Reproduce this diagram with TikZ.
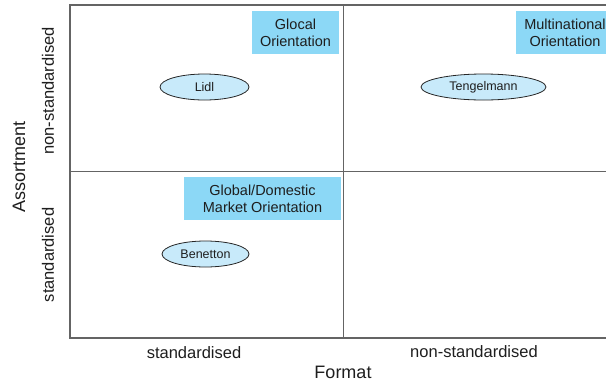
\documentclass[tikz,border=0pt]{standalone}
\usepackage{fontspec}
\setmainfont{Liberation Sans}
\usetikzlibrary{shapes.geometric}
\definecolor{boxblue}{RGB}{140,216,246}
\definecolor{ellblue}{RGB}{200,234,250}
\definecolor{gridgray}{RGB}{100,100,100}
\definecolor{txt}{RGB}{30,30,30}
\tikzset{
  gridline/.style={draw=gridgray, line width=1.3pt},
  orient/.style={fill=boxblue, draw=none, inner sep=0pt, align=center, text=txt,
    font=\fontsize{14.5}{17}\selectfont},
  firm/.style={ellipse, draw=black!85, line width=0.8pt, fill=ellblue, inner sep=0pt,
    minimum height=26pt, text=txt, font=\fontsize{12.5}{14}\selectfont},
  cat/.style={text=txt, inner sep=0pt, font=\fontsize{16.5}{19}\selectfont},
  axtitle/.style={text=txt, inner sep=0pt, font=\fontsize{18}{21}\selectfont}
}
\begin{document}
\begin{tikzpicture}[x=1pt,y=-1pt]
\useasboundingbox (0,0) rectangle (606,384);
\coordinate (tl) at (70,5);
\coordinate (tr) at (606,5);
\coordinate (bl) at (70,338);
\coordinate (br) at (606,338);
\coordinate (ml) at (70,171.5);
\coordinate (mr) at (606,171.5);
\coordinate (mt) at (343.5,5);
\coordinate (mb) at (343.5,338);
\draw[gridline] (tr) -- (tl) -- (bl) -- (br);
\draw[gridline] (ml) -- (mr);
\draw[gridline] (mt) -- (mb);

\node[orient, minimum width=87pt, minimum height=43pt] (glocal) at (295.5,32.5) {Glocal\\Orientation};
\node[orient, minimum width=98pt, minimum height=43pt] (multi) at (565,32.5) {Multinational\\Orientation};
\node[orient, minimum width=157pt, minimum height=43pt] (global) at (262.5,198.5) {Global/Domestic\\Market Orientation};

\node[firm, minimum width=89pt] (lidl) at (204.5,87) {Lidl};
\node[firm, minimum width=125pt] (teng) at (483.5,87) {Tengelmann};
\node[firm, minimum width=87pt] (ben) at (205.5,254) {Benetton};

\node[cat, rotate=90] (ynon) at (48,91) {non-standardised};
\node[cat, rotate=90] (ystd) at (48,255) {standardised};
\node[axtitle, rotate=90] (ytitle) at (19,167) {Assortment};
\node[cat] (xstd) at (194,353) {standardised};
\node[cat] (xnon) at (474,352) {non-standardised};
\node[axtitle] (xtitle) at (343,372) {Format};
\end{tikzpicture}
\end{document}
